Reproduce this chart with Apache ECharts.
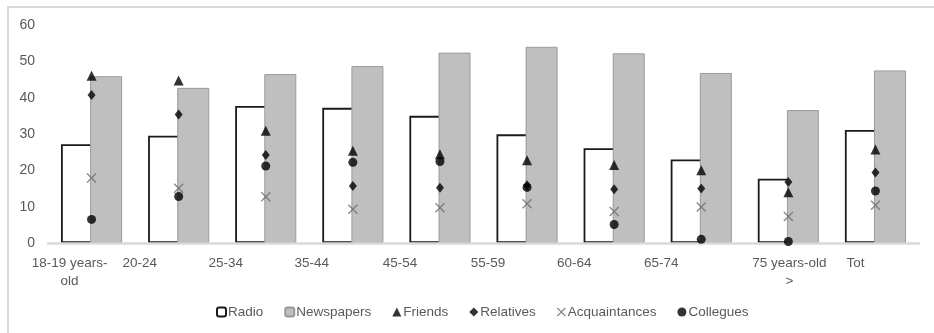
<!DOCTYPE html>
<html>
<head>
<meta charset="utf-8">
<script src="https://cdn.jsdelivr.net/npm/echarts@6/dist/echarts.min.js"></script>
<style>
html,body{margin:0;padding:0;background:#fff;}
#chart{width:934px;height:333px;}
</style>
</head>
<body>
<div id="chart"></div>
<script>
const categories = ["18-19 years-old","20-24","25-34","35-44","45-54","55-59","60-64","65-74","75 years-old >","Tot"];
const tickLabels = ["18-19 years-\nold","20-24","25-34","35-44","45-54","55-59","60-64","65-74","75 years-old\n>","Tot"];
const radio = [27.2,29.5,37.7,37.2,35.0,29.9,26.1,23.0,17.7,31.1];
const newspapers = [45.9,42.7,46.5,48.7,52.4,54.0,52.2,46.8,36.6,47.5];
const friends = [46.0,44.7,30.9,25.4,24.4,22.8,21.5,20.0,14.0,25.7];
const relatives = [40.7,35.4,24.2,15.7,15.2,15.9,14.8,15.0,16.8,19.4];
const acquaintances = [17.9,15.1,12.7,9.3,9.7,10.8,8.7,9.9,7.3,10.4];
const collegues = [6.5,12.8,21.2,22.2,22.4,15.3,5.1,1.0,0.4,14.3];
const yTicks = [0,10,20,30,40,50,60];

// layout: horizontal shift of each tick label (px)
const labelShift = [-22,-39,-40,-41,-40,-39,-40,-40,1,-20];
const FONT = "'Liberation Sans', Arial, sans-serif";
const TXT = '#595959';

const rich = {};
labelShift.forEach((s, i) => {
  rich['s' + i] = {
    fontSize: 13.5, color: TXT, fontFamily: FONT, lineHeight: 18,
    padding: s < 0 ? [0, -2 * s, 0, 0] : [0, 0, 0, 2 * s]
  };
});

const xPath = 'path://M0,1 L1,0 L5,4 L9,0 L10,1 L6,5 L10,9 L9,10 L5,6 L1,10 L0,9 L4,5 Z';

const chart = echarts.init(document.getElementById('chart'));
chart.setOption({
  animation: false,
  backgroundColor: '#fff',
  textStyle: { fontFamily: FONT },
  graphic: [{
    type: 'rect', silent: true, z: -1,
    shape: { x: 8, y: 7, width: 940, height: 345 },
    style: { fill: 'none', stroke: '#d9d9d9', lineWidth: 2 }
  }],
  grid: { left: 48, right: 15, top: 25, bottom: 90 },
  legend: {
    bottom: 9, left: 211,
    itemWidth: 9, itemHeight: 9, itemGap: 21,
    textStyle: { fontSize: 13.5, color: TXT, fontFamily: FONT, padding: [0, 0, 0, -3] },
    data: ['Radio', 'Newspapers', 'Friends', 'Relatives', 'Acquaintances', 'Collegues']
  },
  xAxis: {
    type: 'category',
    data: categories,
    zlevel: 1,
    axisLine: { lineStyle: { color: '#d9d9d9', width: 2.5 } },
    axisTick: { show: false },
    axisLabel: {
      interval: 0, margin: 11,
      formatter: (v, i) => tickLabels[i].split('\n').map(l => '{s' + i + '|' + l + '}').join('\n'),
      rich: rich
    }
  },
  yAxis: {
    type: 'value', min: yTicks[0], max: yTicks[yTicks.length - 1], interval: 10,
    splitLine: { show: false },
    axisLine: { show: false }, axisTick: { show: false },
    axisLabel: { fontSize: 14, color: TXT, fontFamily: FONT, margin: 13 }
  },
  series: [
    { name: 'Radio', type: 'bar', data: radio, barWidth: 32, barGap: '-9%',
      itemStyle: { color: '#ffffff', borderColor: '#1a1a1a', borderWidth: 1.8 } },
    { name: 'Newspapers', type: 'bar', data: newspapers, barWidth: 32,
      itemStyle: { color: '#bfbfbf', borderColor: '#9a9a9a', borderWidth: 1 } },
    { name: 'Friends', type: 'scatter', data: friends, symbol: 'triangle', symbolSize: 10, zlevel: 2,
      itemStyle: { color: '#000' } },
    { name: 'Relatives', type: 'scatter', data: relatives, symbol: 'diamond', symbolSize: [8, 10], zlevel: 2,
      itemStyle: { color: '#000' } },
    { name: 'Acquaintances', type: 'scatter', data: acquaintances, symbol: xPath, symbolSize: 10, zlevel: 2,
      itemStyle: { color: '#6e6e6e' } },
    { name: 'Collegues', type: 'scatter', data: collegues, symbol: 'circle', symbolSize: 9, zlevel: 2,
      itemStyle: { color: '#000' } }
  ]
});
</script>
</body>
</html>
